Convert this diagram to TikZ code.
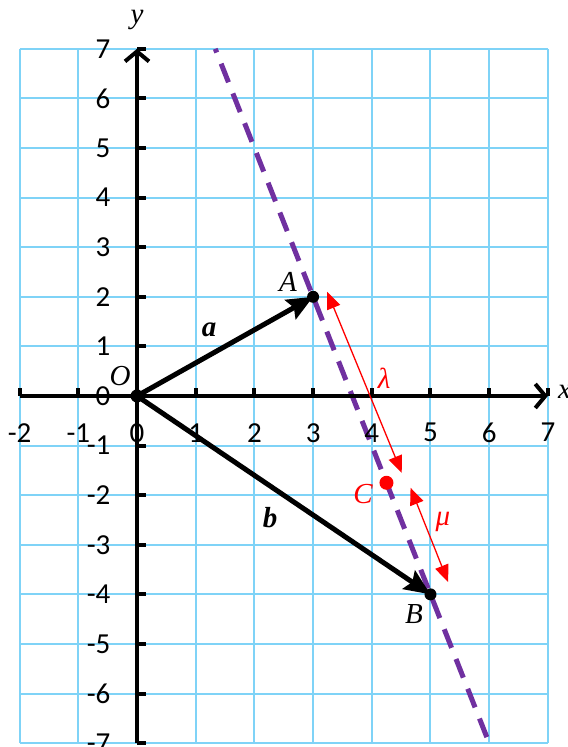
\documentclass[tikz,border=0pt]{standalone}
\usepackage{fontspec}
\setsansfont{Carlito}
\newfontfamily\labfont{Liberation Serif}
\usetikzlibrary{arrows.meta}
\definecolor{gridblue}{HTML}{7FD3F7}
\definecolor{dpurple}{HTML}{7030A0}
\begin{document}
\begin{tikzpicture}[x=58.7pt,y=49.6pt,
  gridline/.style={gridblue, line width=2pt},
  axisline/.style={line width=4pt, -{Straight Barb[length=10pt,width=24pt,line width=4pt]}},
  tickmark/.style={line width=4pt},
  ticklab/.style={font=\sffamily\fontsize{29}{31}\selectfont, inner sep=0pt},
  ptlab/.style={font=\labfont\itshape\fontsize{29}{31}\selectfont, inner sep=0pt},
  veclab/.style={font=\labfont\bfseries\itshape\fontsize{29}{31}\selectfont, inner sep=0pt},
  vecline/.style={line width=5pt, -{Stealth[length=26pt,width=22pt,inset=4pt]}},
  redarrow/.style={red, line width=1.3pt, {Triangle[length=17pt,width=14pt]}-{Triangle[length=17pt,width=14pt]}},
  dashline/.style={dpurple, line width=5pt, dash pattern=on 20pt off 12pt, dash phase=16pt}]
\useasboundingbox (-2.334,-7.077) rectangle (7.342,7.984);
% grid
\foreach \i in {-2,...,7} \draw[gridline] (\i,-7) -- (\i,7);
\foreach \j in {-7,...,7} \draw[gridline] (-2,\j) -- (7,\j);
% dashed line
\coordinate (L1) at (4/3,7);
\coordinate (L2) at (6,-7);
\draw[dashline] (L1) -- (L2);
% axes
\coordinate (XS) at (-2,0);
\coordinate (XE) at (7,0);
\coordinate (YS) at (0,-7);
\coordinate (YE) at (0,7);
\draw[axisline] (XS) -- (XE);
\draw[axisline] (YS) -- (YE);
\foreach \i in {-2,-1,1,2,3,4,5,6,7} {
  \coordinate (xt\i) at (\i,0);
  \draw[tickmark] (xt\i) -- ++(0,0.17);
  \node[ticklab] (xl\i) at (\i,-0.74) {\i};
}
\node[ticklab] (xl0) at (0,-0.74) {0};
\foreach \i in {-7,...,7} {
  \coordinate (yt\i) at (0,\i);
  \draw[tickmark] (yt\i) -- ++(0.16,0);
  \node[ticklab, anchor=east] (yl\i) at (-0.45,\i) {\i};
}
\node[ptlab, anchor=west] (xlab) at (7.17,0.08) {x};
\node[ptlab] (ylab) at (0,7.58) {y};
% points
\coordinate (O) at (0,0);
\coordinate (A) at (3,2);
\coordinate (B) at (5,-4);
\coordinate (C) at (4.25,-1.75);
% vectors
\draw[vecline] (O) -- (A);
\draw[vecline] (O) -- (B);
\fill (O) circle (6.5pt);
\fill (A) circle (6pt);
\fill (B) circle (6pt);
\fill[red] (C) circle (7pt);
% red arrows
\coordinate (R1) at (3.24,2.10);
\coordinate (R2) at (4.51,-1.55);
\coordinate (R3) at (4.66,-1.85);
\coordinate (R4) at (5.30,-3.75);
\draw[redarrow] (R1) -- (R2);
\draw[redarrow] (R3) -- (R4);
% labels
\node[ptlab] (Olab) at (-0.29,0.40) {O};
\node[ptlab] (Alab) at (2.57,2.30) {A};
\node[ptlab] (Blab) at (4.72,-4.40) {B};
\node[ptlab, red] (Clab) at (3.85,-1.98) {C};
\node[veclab] (alab) at (1.23,1.33) {a};
\node[veclab] (blab) at (2.27,-2.46) {b};
\node[ptlab, red] (lamlab) at (4.21,0.36) {λ};
\node[ptlab, red] (mulab) at (5.21,-2.54) {μ};
\end{tikzpicture}
\end{document}
